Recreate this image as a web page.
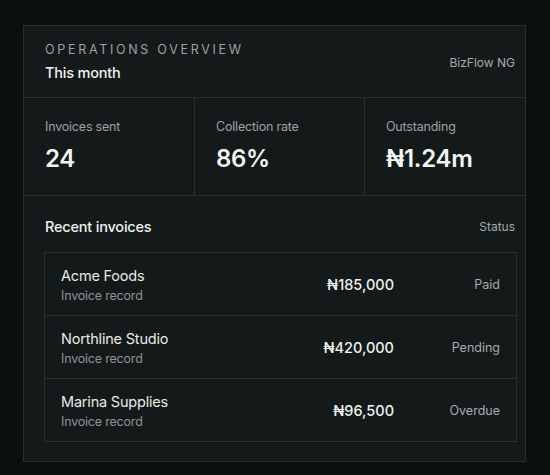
<!DOCTYPE html>
<html><head><meta charset="utf-8">
<script src="https://cdn.jsdelivr.net/npm/chart.js@4"></script>
<style>
html,body{margin:0;padding:0;background:#0b0f0f;width:550px;height:475px;overflow:hidden;font-family:Inter,"Noto Sans",sans-serif;}
.card{position:absolute;left:23px;top:25px;width:503px;height:437px;background:#141a19;border:1px solid #283130;box-sizing:border-box;}
.hdr{position:absolute;left:0;top:0;width:100%;height:71px;border-bottom:1px solid #283130;}
.eyebrow{position:absolute;left:21px;top:16px;font-size:12.5px;letter-spacing:2.7px;color:#9aa3a8;}
.sub{position:absolute;left:21px;top:38px;font-size:14.5px;color:#eef2f0;font-weight:500;letter-spacing:-0.2px}
.brand{position:absolute;right:10px;top:29px;font-size:12px;color:#a3acb0;}
.kpis{position:absolute;left:0;top:71px;width:100%;height:98px;border-bottom:1px solid #283130;}
.kpi{position:absolute;top:0;height:98px;box-sizing:border-box;}
.kpi .l{position:absolute;left:21px;top:22px;font-size:12.5px;color:#9aa3a8;letter-spacing:-0.2px}
.kpi .v{position:absolute;left:21px;top:47px;font-size:24px;color:#f2f5f3;font-weight:600;letter-spacing:-0.3px}
.sec{position:absolute;left:21px;top:192px;font-size:14.5px;color:#eef2f0;font-weight:500;letter-spacing:-0.2px}
.stat{position:absolute;right:10px;top:193px;font-size:12px;color:#a3acb0;}
.tbl{position:absolute;left:20px;top:226px;width:473px;height:190px;border:1px solid #283130;box-sizing:border-box;}
.row{position:absolute;left:0;width:100%;height:63px;box-sizing:border-box;}
.row .n{position:absolute;left:16px;top:14px;font-size:14.5px;color:#e6ebe8;letter-spacing:-0.2px}
.row .s{position:absolute;left:16px;top:35px;font-size:12.5px;color:#8b9498;letter-spacing:-0.2px}
.row .a{position:absolute;right:122px;top:23px;font-size:14.5px;color:#eef2f0;font-weight:500}
.row .t{position:absolute;right:16px;top:24px;font-size:12.5px;color:#a3acb0}
</style></head><body>
<div class="card" id="card">
<div class="hdr"><div class="eyebrow">OPERATIONS OVERVIEW</div><div class="sub">This month</div><div class="brand">BizFlow NG</div></div>
<div class="kpis" id="kpis"></div>
<div class="sec">Recent invoices</div><div class="stat">Status</div>
<div class="tbl" id="tbl"></div>
</div>
<script>
const kpiLabels=["Invoices sent","Collection rate","Outstanding"];
const kpiValues=["24","86%","₦1.24m"];
const clients=["Acme Foods","Northline Studio","Marina Supplies"];
const amounts=[185000,420000,96500];
const statuses=["Paid","Pending","Overdue"];
const kp=document.getElementById('kpis');
kpiLabels.forEach((l,i)=>{const d=document.createElement('div');d.className='kpi';
 const w=[171,170,162][i],x=[0,171,341][i];d.style.left=x+'px';d.style.width=w+'px';
 if(i<2)d.style.borderRight='1px solid #283130';
 d.innerHTML='<div class="l">'+l+'</div><div class="v">'+kpiValues[i]+'</div>';kp.appendChild(d);});
const tb=document.getElementById('tbl');
clients.forEach((c,i)=>{const r=document.createElement('div');r.className='row';r.style.top=(i*63)+'px';
 if(i<2)r.style.borderBottom='1px solid #283130';
 r.innerHTML='<div class="n">'+c+'</div><div class="s">Invoice record</div><div class="a">₦'+amounts[i].toLocaleString('en-US')+'</div><div class="t">'+statuses[i]+'</div>';
 tb.appendChild(r);});
</script>
</body></html>
